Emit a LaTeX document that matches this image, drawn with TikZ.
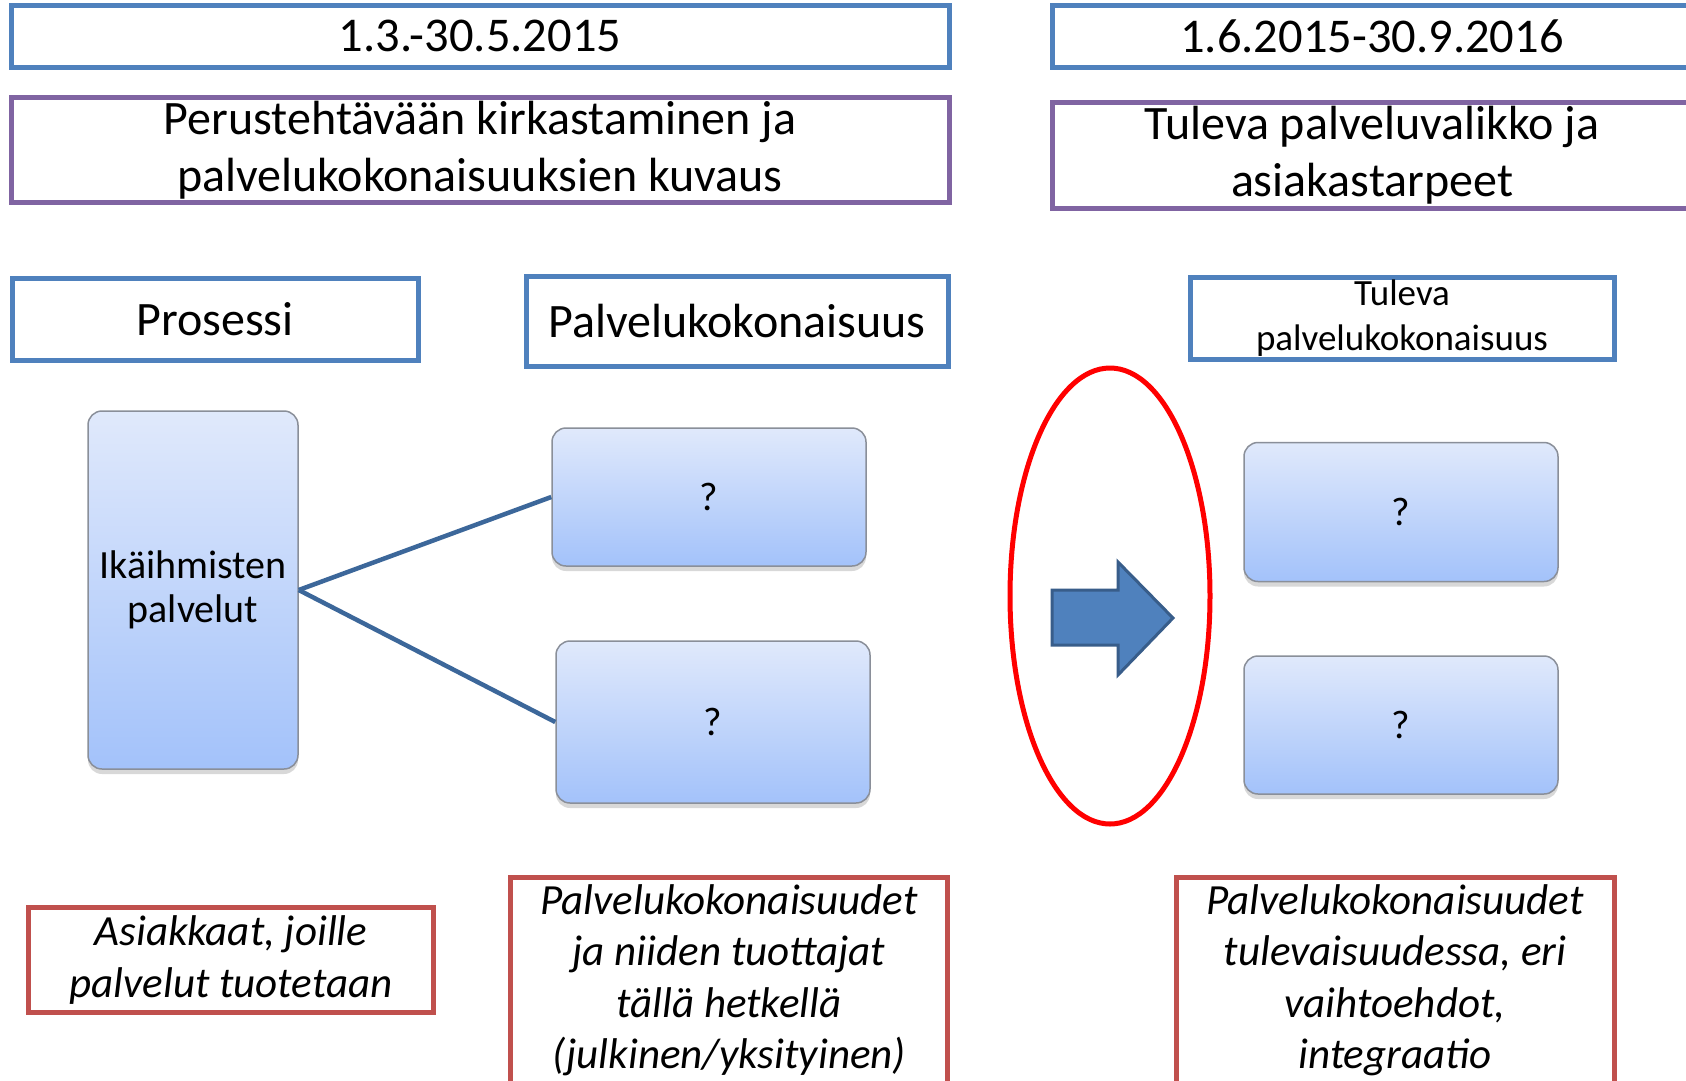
\documentclass[tikz,border=0pt]{standalone}
\usepackage{fontspec}
\setmainfont{Carlito}
\usetikzlibrary{shadows,shapes.geometric}
\definecolor{boxblue}{HTML}{4F81BD}
\definecolor{boxpurple}{HTML}{8064A2}
\definecolor{boxred}{HTML}{C0504D}
\definecolor{ellred}{HTML}{FF0000}
\definecolor{connblue}{HTML}{3C679A}
\definecolor{arrowedge}{HTML}{385D8A}
\definecolor{gradtop}{HTML}{E0E9FB}
\definecolor{gradbot}{HTML}{A3C2FA}
\definecolor{gradedge}{HTML}{8A8F99}
\tikzset{
  outbox/.style={draw=#1, line width=5pt, fill=white, inner sep=0pt, align=center},
  datebox/.style={outbox=boxblue, font=\fontsize{48.5}{58}\selectfont},
  themebox/.style={outbox=boxpurple, font=\fontsize{48}{57}\selectfont},
  headbox/.style={outbox=boxblue, font=\fontsize{48}{57}\selectfont},
  notebox/.style={outbox=boxred, font=\fontsize{43}{51.5}\selectfont\itshape},
  gradbox/.style={draw=gradedge, line width=1.5pt, rounded corners=14pt,
    top color=gradtop, bottom color=gradbot, inner sep=0pt, align=center,
    font=\fontsize{40}{44}\selectfont,
    drop shadow={shadow xshift=0pt, shadow yshift=-5pt, opacity=0.25, fill=black!60}},
  conn/.style={draw=connblue, line width=4.5pt},
  bigarrow/.style={fill=boxblue, draw=arrowedge, line width=3pt, line join=miter},
  ring/.style={draw=ellred, line width=5pt, ellipse, inner sep=0pt}
}
\begin{document}
\begin{tikzpicture}[x=1pt,y=-1pt]
\clip (0,0) rectangle (1686,1080);
\fill[white] (0,0) rectangle (1686,1080);

% dates
\node[datebox, minimum width=938, minimum height=62] (d1) at (480,36) {1.3.-30.5.2015};
\node[datebox, minimum width=640, minimum height=62] (d2) at (1372,36) {1.6.2015-30.9.2016};

% themes
\node[themebox, minimum width=938, minimum height=105] (p1) at (480,150)
  {Perustehtävään kirkastaminen ja\\palvelukokonaisuuksien kuvaus};
\node[themebox, minimum width=640, minimum height=106] (p2) at (1372,155)
  {Tuleva palveluvalikko ja\\asiakastarpeet};

% headers
\node[headbox, minimum width=406, minimum height=82] (pros) at (215,319) {Prosessi};
\node[headbox, minimum width=422, minimum height=90] (palv) at (737,321) {Palvelukokonaisuus};
\node[outbox=boxblue, font=\fontsize{37}{45}\selectfont, minimum width=424, minimum height=82] (tul) at (1402,318)
  {\raisebox{-3pt}{Tuleva}\\\raisebox{-3pt}{palvelukokonaisuus}};

% gradient boxes
\node[gradbox, minimum width=210, minimum height=358] (ika) at (193,590) {Ikäihmisten\\palvelut};
\node[gradbox, minimum width=314, minimum height=138] (q1) at (709,497) {?};
\node[gradbox, minimum width=314, minimum height=162] (q2) at (713,722) {?};
\node[gradbox, minimum width=314, minimum height=139] (r1) at (1401,512) {?};
\node[gradbox, minimum width=314, minimum height=138] (r2) at (1401,725) {?};

% connectors
\draw[conn] (ika.east) -- (q1.west);
\draw[conn] (ika.east) -- (q2.west);

% ring and arrow
\node[ring, minimum width=200, minimum height=456] (ell) at (1110,596) {};
\draw[bigarrow] (1052,590) -- (1118,590) -- (1118,562) -- (1173,618)
  -- (1118,675) -- (1118,645) -- (1052,645) -- cycle;

% notes
\node[notebox, minimum width=405, minimum height=105] (b1) at (231,960)
  {Asiakkaat, joille\\palvelut tuotetaan};
\node[notebox, minimum width=437, minimum height=206] (b2) at (729,980)
  {Palvelukokonaisuudet\\ja niiden tuottajat\\tällä hetkellä\\(julkinen/yksityinen)};
\node[notebox, minimum width=438, minimum height=206] (b3) at (1395,980)
  {Palvelukokonaisuudet\\tulevaisuudessa, eri\\vaihtoehdot,\\integraatio};
\end{tikzpicture}
\end{document}
